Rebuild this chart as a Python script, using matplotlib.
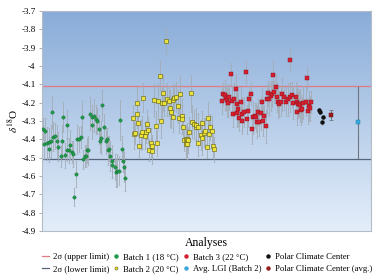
import numpy as np
import matplotlib
matplotlib.use('Agg')
import matplotlib.pyplot as plt
from matplotlib.lines import Line2D
from matplotlib.ticker import FuncFormatter

plt.rcParams.update({
    'font.family': ['Liberation Serif', 'DejaVu Serif'],
    'mathtext.fontset': 'stix',
    'font.size': 6.5,
    'axes.unicode_minus': False,
})

# Batch 1 (18 C)
b1_x = [0.7, 2.0, 2.7, 4.7, 6.7, 7.3, 9.0, 10.0, 11.3, 13.0,
        15.3, 16.3, 18.7, 20.0, 21.3, 22.7, 24.7, 25.3, 27.3, 28.0,
        30.3, 31.3, 32.3, 34.0, 35.3, 37.3, 38.7, 40.3, 41.3, 43.0,
        43.7, 44.7, 46.3, 48.0, 49.7, 50.3, 52.3, 53.7, 55.3, 56.7,
        58.0, 59.0, 60.3, 62.0, 63.7, 64.7, 66.3, 67.3, 68.0, 69.7,
        70.3, 73.0, 73.7, 74.7, 77.0, 78.3, 79.7, 81.0, 82.3, 83.3]
b1_y = [-4.345, -4.427, -4.353, -4.422, -4.455, -4.416, -4.41, -4.251, -4.386, -4.38,
        -4.41, -4.44, -4.489, -4.41, -4.277, -4.487, -4.46, -4.32, -4.46, -4.43,
        -4.47, -4.48, -4.716, -4.588, -4.40, -4.40, -4.386, -4.28, -4.509, -4.49,
        -4.49, -4.46, -4.46, -4.26, -4.28, -4.32, -4.27, -4.29, -4.30, -4.345,
        -4.41, -4.39, -4.213, -4.33, -4.41, -4.40, -4.46, -4.45, -4.49, -4.54,
        -4.52, -4.55, -4.58, -4.57, -4.57, -4.295, -4.45, -4.52, -4.55, -4.61]
b1_err = [0.06, 0.08, 0.07, 0.09, 0.07, 0.08, 0.09, 0.09, 0.08, 0.07,
          0.09, 0.08, 0.06, 0.09, 0.08, 0.07, 0.06, 0.08, 0.07, 0.08,
          0.06, 0.07, 0.05, 0.07, 0.08, 0.07, 0.06, 0.09, 0.05, 0.06,
          0.06, 0.07, 0.08, 0.09, 0.07, 0.08, 0.09, 0.08, 0.07, 0.08,
          0.06, 0.09, 0.08, 0.07, 0.07, 0.06, 0.08, 0.07, 0.08, 0.07,
          0.09, 0.07, 0.08, 0.09, 0.08, 0.11, 0.07, 0.06, 0.08, 0.07]

# Batch 2 (20 C)
b2_x = [91.3, 92.0, 93.0, 94.7, 95.3, 96.0, 97.3, 98.7, 100.3, 101.3,
        102.7, 104.0, 104.7, 106.3, 107.3, 108.7, 109.7, 110.3, 112.3, 113.7,
        114.7, 116.3, 117.7, 118.7, 120.3, 121.3, 122.3, 123.7, 125.3, 127.0,
        128.0, 129.0, 130.7, 131.3, 132.3, 134.0, 135.7, 137.0, 138.0, 139.7,
        140.3, 141.3, 142.3, 143.7, 144.0, 144.7, 145.3, 145.7, 147.0, 149.0,
        150.3, 152.3, 153.7, 154.0, 155.7, 156.3, 158.7, 159.7, 160.3, 162.0,
        163.0, 164.7, 165.7, 167.0, 168.3, 169.7, 170.7, 172.0]
b2_y = [-4.285, -4.371, -4.364, -4.204, -4.26, -4.313, -4.435, -4.376, -4.362, -4.173,
        -4.382, -4.358, -4.318, -4.349, -4.458, -4.418, -4.462, -4.437, -4.187, -4.326,
        -4.418, -4.191, -4.053, -4.30, -4.202, -4.146, -4.202, -3.864, -4.182, -4.191,
        -4.231, -4.249, -4.28, -4.187, -4.173, -4.168, -4.218, -4.285, -4.154, -4.271,
        -4.291, -4.331, -4.404, -4.40, -4.427, -4.40, -4.427, -4.404, -4.358, -4.149,
        -4.304, -4.317, -4.334, -4.32, -4.334, -4.418, -4.376, -4.395, -4.313, -4.364,
        -4.353, -4.44, -4.285, -4.371, -4.334, -4.353, -4.435, -4.455]
b2_err = [0.07, 0.08, 0.06, 0.09, 0.08, 0.07, 0.06, 0.08, 0.09, 0.08,
          0.07, 0.06, 0.08, 0.07, 0.06, 0.08, 0.07, 0.06, 0.09, 0.08,
          0.07, 0.1, 0.08, 0.09, 0.08, 0.1, 0.07, 0.07, 0.09, 0.08,
          0.1, 0.09, 0.08, 0.09, 0.07, 0.08, 0.09, 0.08, 0.1, 0.09,
          0.08, 0.07, 0.06, 0.08, 0.07, 0.09, 0.08, 0.07, 0.08, 0.1,
          0.09, 0.08, 0.07, 0.09, 0.08, 0.07, 0.08, 0.09, 0.07, 0.08,
          0.07, 0.06, 0.09, 0.08, 0.07, 0.08, 0.06, 0.07]

# Batch 3 (22 C)
b3_x = [179.7, 181.3, 183.0, 183.7, 185.3, 186.3, 187.3, 188.7, 189.7, 191.3,
        192.3, 193.7, 194.7, 195.3, 196.3, 197.3, 198.7, 199.7, 200.3, 202.0,
        203.7, 205.3, 206.3, 207.3, 208.7, 210.3, 211.3, 213.0, 214.0, 214.7,
        216.3, 216.8, 218.7, 219.7, 220.7, 222.3, 224.0, 224.7, 226.3, 227.3,
        229.0, 230.3, 231.3, 232.3, 234.0, 234.7, 235.7, 237.3, 238.7, 239.7,
        242.3, 243.7, 246.3, 248.0, 248.5, 249.7, 251.3, 253.7, 254.7, 255.3,
        256.3, 257.0, 258.0, 259.0, 260.3, 261.3, 263.7, 264.7, 265.7, 267.0,
        268.0, 269.0]
b3_y = [-4.189, -4.153, -4.158, -4.176, -4.186, -4.20, -4.171, -4.044, -4.189, -4.262,
        -4.182, -4.124, -4.207, -4.254, -4.236, -4.285, -4.194, -4.26, -4.30, -4.25,
        -4.034, -4.29, -4.245, -4.18, -4.154, -4.345, -4.28, -4.27, -4.28, -4.304,
        -4.25, -4.304, -4.258, -4.195, -4.30, -4.27, -4.327, -4.182, -4.149, -4.182,
        -4.164, -4.153, -4.047, -4.14, -4.113, -4.171, -4.195, -4.207, -4.195, -4.153,
        -4.171, -4.195, -4.182, -3.967, -4.168, -4.158, -4.20, -4.168, -4.25, -4.195,
        -4.205, -4.207, -4.214, -4.24, -4.236, -4.20, -4.195, -4.064, -4.244, -4.218,
        -4.231, -4.198]
b3_err = [0.07, 0.06, 0.08, 0.07, 0.09, 0.08, 0.07, 0.06, 0.08, 0.07,
          0.09, 0.08, 0.07, 0.08, 0.09, 0.07, 0.08, 0.09, 0.07, 0.08,
          0.06, 0.08, 0.09, 0.07, 0.06, 0.08, 0.09, 0.07, 0.08, 0.09,
          0.07, 0.08, 0.09, 0.07, 0.08, 0.06, 0.09, 0.08, 0.07, 0.09,
          0.08, 0.07, 0.08, 0.06, 0.07, 0.08, 0.09, 0.07, 0.08, 0.09,
          0.07, 0.08, 0.09, 0.06, 0.08, 0.07, 0.09, 0.08, 0.07, 0.09,
          0.08, 0.07, 0.09, 0.08, 0.07, 0.09, 0.08, 0.06, 0.07, 0.08,
          0.07, 0.06]

# Polar Climate Center
pcc_x = [277.0, 278.5, 279.7, 280.7]
pcc_y = [-4.24, -4.249, -4.304, -4.28]
pcc_err = [0.012, 0.012, 0.015, 0.012]
pcc_avg_x = [288.7]
pcc_avg_y = [-4.269]
pcc_avg_err = [0.027]

# Avg. LGI (Batch 2) with 2 sigma
lgi_x = [316.3]
lgi_y = [-4.307]
lgi_2sd = 0.2
upper = lgi_y[0] + lgi_2sd
lower = lgi_y[0] - lgi_2sd

yticks = np.round(np.arange(-4.9, -3.65, 0.1), 1)

fig = plt.figure(figsize=(3.84, 2.78), dpi=100)
ax = fig.add_axes([0.109, 0.169, 0.857, 0.791])
xlim = (0, 329)
ylim = (-4.9, -3.7)

# gradient background
top = np.array([137, 172, 216]) / 255
bot = np.array([228, 238, 250]) / 255
t = np.linspace(0, 1, 256)[:, None]
grad = (top * (1 - t) + bot * t)[:, None, :]
ax.imshow(grad, extent=[xlim[0], xlim[1], ylim[0], ylim[1]], aspect='auto', zorder=0)

ax.axhline(upper, color='#e07c84', lw=0.9, zorder=1)
ax.axhline(lower, color='#56657a', lw=0.9, zorder=1)

ekw = dict(ecolor='#a3acb6', elinewidth=0.6, capsize=0.7, capthick=0.4, ls='none', zorder=2)
ax.errorbar(b1_x, b1_y, yerr=b1_err, **ekw)
ax.errorbar(b2_x, b2_y, yerr=b2_err, **ekw)
ax.errorbar(b3_x, b3_y, yerr=b3_err, **ekw)
ax.errorbar(pcc_x, pcc_y, yerr=pcc_err, **ekw)
ax.errorbar(pcc_avg_x, pcc_avg_y, yerr=pcc_avg_err, ecolor='#6f7680', elinewidth=0.7,
            capsize=1.2, capthick=0.6, ls='none', zorder=2)
ax.errorbar(lgi_x, lgi_y, yerr=lgi_2sd, ecolor='#6f7680', elinewidth=0.8, ls='none', zorder=2)

ms = 2.2
ax.plot(b1_x, b1_y, 'o', ms=ms + 0.2, color='#1e9a48', mec='#136b30', mew=0.3, zorder=3)
ax.plot(b2_x, b2_y, 's', ms=ms, color='#ece33a', mec='#5e5a10', mew=0.4, zorder=3)
ax.plot(b3_x, b3_y, 's', ms=ms, color='#d42030', mec='#8a1018', mew=0.3, zorder=3)
ax.plot(pcc_x, pcc_y, 'o', ms=ms, color='#111111', zorder=3)
ax.plot(pcc_avg_x, pcc_avg_y, 's', ms=ms, color='#9a1c1c', mec='#5a0a0a', mew=0.3, zorder=3)
ax.plot(lgi_x, lgi_y, 's', ms=ms + 0.4, color='#3aa8dc', mec='#1a7aa8', mew=0.3, zorder=3)

ax.set_xlim(*xlim)
ax.set_ylim(*ylim)
ax.set_xticks([])
ax.set_yticks(yticks)
ax.yaxis.set_major_formatter(FuncFormatter(lambda v, p: f'{round(v, 1):g}'))
ax.tick_params(axis='y', length=2.5, width=0.6, color='#9aa0a8', pad=2, labelsize=6.5)
for s in ax.spines.values():
    s.set_color('#b4bcc6')
    s.set_linewidth(0.8)

ax.set_ylabel(r'$\delta^{18}$O', fontsize=8, labelpad=1)
ax.set_xlabel('Analyses', fontsize=8.5, labelpad=4)

handles = [
    Line2D([], [], color='#e07c84', lw=0.9),
    Line2D([], [], color='#56657a', lw=0.9),
    Line2D([], [], marker='o', ls='none', ms=2.2, color='#1e9a48'),
    Line2D([], [], marker='o', ls='none', ms=2.2, color='#ece33a', mec='#5e5a10', mew=0.4),
    Line2D([], [], marker='o', ls='none', ms=2.2, color='#d42030'),
    Line2D([], [], marker='o', ls='none', ms=2.2, color='#3aa8dc'),
    Line2D([], [], marker='o', ls='none', ms=2.2, color='#111111'),
    Line2D([], [], marker='o', ls='none', ms=2.2, color='#9a1c1c'),
]
labels = ['2σ (upper limit)', '2σ (lower limit)',
          'Batch 1 (18 °C)', 'Batch 2 (20 °C)',
          'Batch 3 (22 °C)', 'Avg. LGI (Batch 2)',
          'Polar Climate Center', 'Polar Climate Center (avg.)']
fig.legend(handles, labels, ncol=4, loc='lower center', bbox_to_anchor=(0.54, -0.012),
           frameon=False, fontsize=6.3, handlelength=0.8, handletextpad=0.4,
           columnspacing=0.4, labelspacing=0.45)

fig.savefig('out.png', dpi=100)
